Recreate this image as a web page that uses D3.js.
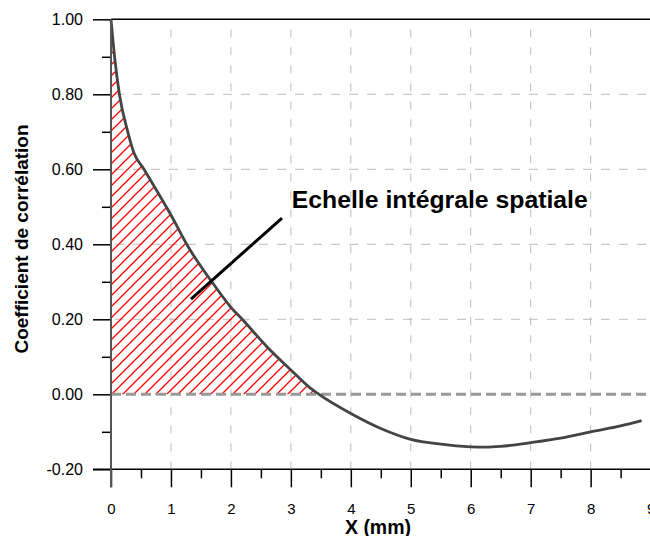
<!DOCTYPE html>
<html><head><meta charset="utf-8">
<script src="https://cdn.jsdelivr.net/npm/d3@7"></script>
<style>body{margin:0;background:#fff}svg{display:block;font-family:"Liberation Sans",Arial,sans-serif}</style>
</head><body>
<svg id="c" width="650" height="536"></svg>
<script>
const xValues = [0, 0.06, 0.14, 0.28, 0.38, 0.55, 1.0, 1.3, 1.7, 2.0, 2.2, 2.6, 3.0, 3.3, 3.47, 4.0, 4.5, 5.0, 5.5, 6.0, 6.25, 6.5, 7.0, 7.5, 8.0, 8.5, 8.85];
const yValues = [1.0, 0.9, 0.8, 0.70, 0.645, 0.60, 0.478, 0.39, 0.296, 0.232, 0.198, 0.127, 0.065, 0.02, 0.0, -0.051, -0.091, -0.12, -0.133, -0.14, -0.141, -0.139, -0.129, -0.117, -0.10, -0.084, -0.07];
const xTicks = [0,1,2,3,4,5,6,7,8,9];
const xMinorTicks = [0.5,1.5,2.5,3.5,4.5,5.5,6.5,7.5,8.5];
const yTicks = [-0.2,0,0.2,0.4,0.6,0.8,1.0];
const yMinorTicks = [-0.1,0.1,0.3,0.5,0.7,0.9];
const xGrid = [1,2,3,4,5,6,7,8];
const yGrid = [0.2,0.4,0.6,0.8];
const integralEnd = 3.47;
const annotationText = "Echelle intégrale spatiale";
const annotationLine = [[1.334, 0.254],[2.852, 0.470]];
const annotationPos = [3.015, 0.497];
const xTitle = "X (mm)";
const yTitle = "Coefficient de corrélation";

const FONT = '"Liberation Sans",Arial,sans-serif';
const data = xValues.map((x,i)=>({x, y:yValues[i]}));
const svg = d3.select("#c");
const x = d3.scaleLinear().domain([0,9]).range([111, 650.6]);
const y = d3.scaleLinear().domain([-0.2,1]).range([469.3, 19.3]);
const xR = 650;

// hatch pattern
const defs = svg.append("defs");
const pat = defs.append("pattern").attr("id","hatch").attr("patternUnits","userSpaceOnUse")
  .attr("width",11).attr("height",11);
pat.append("path").attr("d","M-1,1 l2,-2 M0,11 l11,-11 M10,12 l2,-2")
  .attr("stroke","#ff0000").attr("stroke-width",1.3).attr("fill","none");

// grid
svg.append("g").selectAll("line").data(xGrid).join("line")
  .attr("x1",d=>x(d)).attr("x2",d=>x(d)).attr("y1",y(1)).attr("y2",y(-0.2))
  .attr("stroke","#bdbdbd").attr("stroke-width",1).attr("stroke-dasharray","8,10").attr("stroke-dashoffset",-10);
svg.append("g").selectAll("line").data(yGrid).join("line")
  .attr("x1",x(0)).attr("x2",xR).attr("y1",d=>y(d)).attr("y2",d=>y(d))
  .attr("stroke","#bdbdbd").attr("stroke-width",1).attr("stroke-dasharray","9,9").attr("stroke-dashoffset",-4);

// hatched area
const areaData = data.filter(d=>d.x<=integralEnd);
svg.append("path").datum(areaData)
  .attr("d", d3.area().x(d=>x(d.x)).y0(y(0)).y1(d=>y(d.y)).curve(d3.curveMonotoneX))
  .attr("fill","url(#hatch)");

// zero line
svg.append("line").attr("x1",x(0)).attr("x2",xR).attr("y1",y(0)).attr("y2",y(0))
  .attr("stroke","#999").attr("stroke-width",3).attr("stroke-dasharray","10,5");

// curve
svg.append("path").datum(data)
  .attr("d", d3.line().x(d=>x(d.x)).y(d=>y(d.y)).curve(d3.curveMonotoneX))
  .attr("fill","none").attr("stroke","#444").attr("stroke-width",2.8).attr("stroke-linejoin","round");

// top border
svg.append("line").attr("x1",x(0)).attr("x2",xR).attr("y1",y(1)).attr("y2",y(1))
  .attr("stroke","#000").attr("stroke-width",1.5);

// axes
const yAxis = svg.append("g").attr("transform",`translate(${x(0)},0)`)
  .call(d3.axisLeft(y).tickValues(yTicks).tickSize(18).tickSizeOuter(0).tickPadding(10).tickFormat(d3.format(".2f")));
yAxis.attr("font-family",FONT);
yAxis.select(".domain").remove();
yAxis.selectAll("line").attr("stroke","#000").attr("stroke-width",1.5);
yAxis.selectAll("text").attr("font-size",16).attr("fill","#000").text(d=>d3.format(".2f")(d).replace("−","-"));
const yMinor = svg.append("g").attr("transform",`translate(${x(0)},0)`)
  .call(d3.axisLeft(y).tickValues(yMinorTicks).tickSize(9).tickSizeOuter(0).tickFormat(""));
yMinor.select(".domain").remove();
yMinor.selectAll("line").attr("stroke","#000").attr("stroke-width",1.5);

const xAxis = svg.append("g").attr("transform",`translate(0,${y(-0.2)})`)
  .call(d3.axisBottom(x).tickValues(xTicks).tickSize(18).tickSizeOuter(0).tickPadding(16).tickFormat(d3.format("d")));
xAxis.attr("font-family",FONT);
xAxis.select(".domain").remove();
xAxis.selectAll("line").attr("stroke","#000").attr("stroke-width",1.5);
xAxis.selectAll("text").attr("font-size",15).attr("fill","#000");
const xMinor = svg.append("g").attr("transform",`translate(0,${y(-0.2)})`)
  .call(d3.axisBottom(x).tickValues(xMinorTicks).tickSize(9).tickSizeOuter(0).tickFormat(""));
xMinor.select(".domain").remove();
xMinor.selectAll("line").attr("stroke","#000").attr("stroke-width",1.5);

// axis lines
svg.append("line").attr("x1",x(0)-18).attr("x2",xR).attr("y1",y(-0.2)).attr("y2",y(-0.2))
  .attr("stroke","#000").attr("stroke-width",1.5);
svg.append("line").attr("x1",x(0)).attr("x2",x(0)).attr("y1",y(1)).attr("y2",y(-0.2)+18)
  .attr("stroke","#555").attr("stroke-width",2);

// annotation
svg.append("line")
  .attr("x1",x(annotationLine[0][0])).attr("y1",y(annotationLine[0][1]))
  .attr("x2",x(annotationLine[1][0])).attr("y2",y(annotationLine[1][1]))
  .attr("stroke","#000").attr("stroke-width",3);
svg.append("text").attr("x",x(annotationPos[0])).attr("y",y(annotationPos[1]))
  .attr("font-family",FONT).attr("font-size",23).attr("font-weight","bold").attr("fill","#000")
  .attr("textLength",296).attr("lengthAdjust","spacingAndGlyphs").text(annotationText);

// titles
svg.append("text").attr("x",378).attr("y",533.5).attr("text-anchor","middle")
  .attr("font-family",FONT).attr("font-size",19.5).attr("font-weight","bold").text(xTitle);
svg.append("text").attr("transform","translate(28,239) rotate(-90)").attr("text-anchor","middle")
  .attr("font-family",FONT).attr("font-size",19).attr("font-weight","bold").text(yTitle);
</script>
</body></html>
